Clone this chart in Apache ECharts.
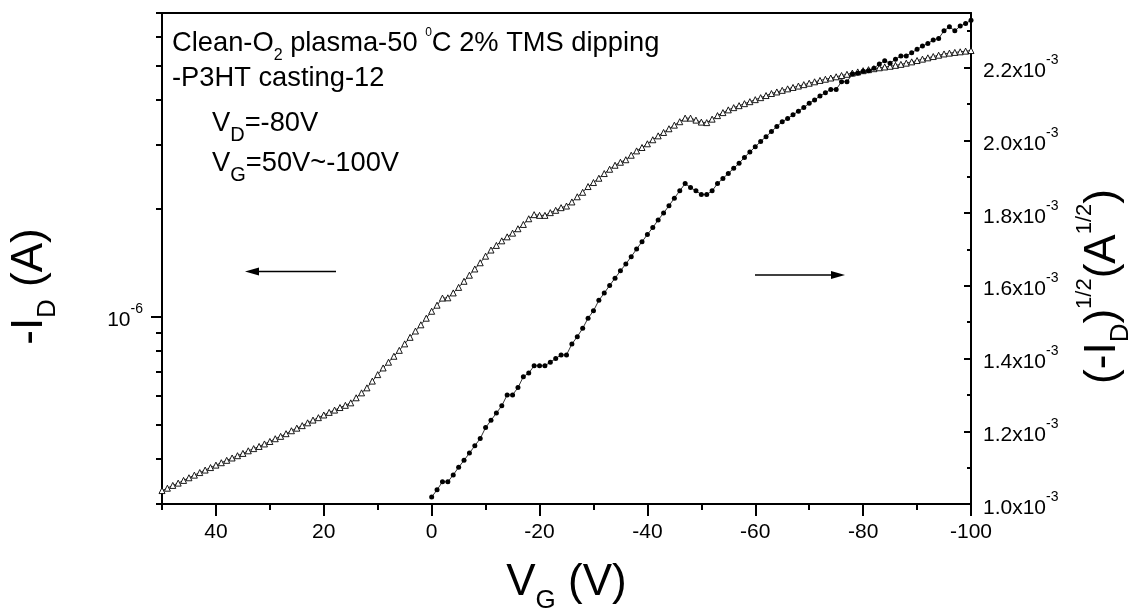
<!DOCTYPE html>
<html>
<head>
<meta charset="utf-8">
<script src="https://cdn.jsdelivr.net/npm/echarts@6/dist/echarts.min.js"></script>
<style>html,body{margin:0;padding:0;background:#fff;}#c{width:1133px;height:613px;}</style>
</head>
<body>
<div id="c"></div>
<script>
// ---------- DATA ----------
const VG = [50,49,48,47,46,45,44,43,42,41,40,39,38,37,36,35,34,33,32,31,30,29,28,27,26,25,24,23,22,21,20,19,18,17,16,15,14,13,12,11,10,9,8,7,6,5,4,3,2,1,0,
-1,-2,-3,-4,-5,-6,-7,-8,-9,-10,-11,-12,-13,-14,-15,-16,-17,-18,-19,-20,-21,-22,-23,-24,-25,-26,-27,-28,-29,-30,-31,-32,-33,-34,-35,-36,-37,-38,-39,-40,
-41,-42,-43,-44,-45,-46,-47,-48,-49,-50,-51,-52,-53,-54,-55,-56,-57,-58,-59,-60,-61,-62,-63,-64,-65,-66,-67,-68,-69,-70,-71,-72,-73,-74,-75,-76,-77,-78,-79,-80,
-81,-82,-83,-84,-85,-86,-87,-88,-89,-90,-91,-92,-93,-94,-95,-96,-97,-98,-99,-100];

// -I_D (A), V_G = 50 ... -100
const ID = [3.27e-7,3.32e-7,3.38e-7,3.43e-7,3.49e-7,3.55e-7,3.61e-7,3.67e-7,3.73e-7,3.79e-7,3.85e-7,3.91e-7,3.97e-7,4.03e-7,4.09e-7,4.15e-7,4.22e-7,4.28e-7,4.34e-7,4.41e-7,
4.48e-7,4.56e-7,4.63e-7,4.71e-7,4.80e-7,4.88e-7,4.96e-7,5.05e-7,5.14e-7,5.22e-7,5.31e-7,5.40e-7,5.48e-7,5.57e-7,5.65e-7,5.74e-7,5.93e-7,6.12e-7,6.32e-7,6.60e-7,
6.88e-7,7.18e-7,7.45e-7,7.74e-7,8.04e-7,8.38e-7,8.74e-7,9.10e-7,9.47e-7,9.88e-7,1.033e-6,
1.074e-6,1.124e-6,1.126e-6,1.162e-6,1.204e-6,1.252e-6,1.302e-6,1.355e-6,1.410e-6,1.471e-6,1.530e-6,1.576e-6,1.623e-6,1.665e-6,1.705e-6,1.754e-6,1.803e-6,1.870e-6,1.920e-6,1.911e-6,
1.911e-6,1.945e-6,1.974e-6,2.008e-6,2.029e-6,2.083e-6,2.153e-6,2.216e-6,2.299e-6,2.359e-6,2.425e-6,2.499e-6,2.569e-6,2.636e-6,2.687e-6,2.731e-6,2.811e-6,2.890e-6,2.954e-6,3.025e-6,
3.104e-6,3.183e-6,3.253e-6,3.331e-6,3.409e-6,3.485e-6,3.566e-6,3.566e-6,3.521e-6,3.476e-6,3.465e-6,3.543e-6,3.624e-6,3.695e-6,3.760e-6,3.814e-6,3.863e-6,3.913e-6,3.963e-6,4.015e-6,
4.067e-6,4.122e-6,4.176e-6,4.218e-6,4.262e-6,4.303e-6,4.342e-6,4.381e-6,4.421e-6,4.461e-6,4.502e-6,4.542e-6,4.577e-6,4.613e-6,4.649e-6,4.687e-6,4.724e-6,4.761e-6,4.797e-6,4.835e-6,
4.866e-6,4.897e-6,4.926e-6,4.951e-6,4.973e-6,5.003e-6,5.035e-6,5.074e-6,5.116e-6,5.160e-6,5.206e-6,5.250e-6,5.294e-6,5.339e-6,5.383e-6,5.411e-6,5.436e-6,5.457e-6,5.481e-6,5.502e-6];

// (-I_D)^1/2 (A^1/2), V_G = 0 ... -100
const SQRT_ID = [1.019e-3,
1.039e-3,1.061e-3,1.061e-3,1.080e-3,1.101e-3,1.120e-3,1.140e-3,1.160e-3,1.180e-3,1.210e-3,
1.230e-3,1.250e-3,1.270e-3,1.300e-3,1.300e-3,1.320e-3,1.350e-3,1.360e-3,1.380e-3,1.380e-3,
1.380e-3,1.390e-3,1.400e-3,1.410e-3,1.410e-3,1.440e-3,1.460e-3,1.483e-3,1.511e-3,1.531e-3,
1.560e-3,1.580e-3,1.601e-3,1.621e-3,1.641e-3,1.660e-3,1.680e-3,1.701e-3,1.721e-3,1.741e-3,
1.760e-3,1.781e-3,1.800e-3,1.820e-3,1.841e-3,1.861e-3,1.881e-3,1.870e-3,1.861e-3,1.851e-3,
1.851e-3,1.861e-3,1.881e-3,1.895e-3,1.909e-3,1.923e-3,1.937e-3,1.953e-3,1.968e-3,1.982e-3,
1.997e-3,2.010e-3,2.024e-3,2.038e-3,2.051e-3,2.060e-3,2.070e-3,2.080e-3,2.090e-3,2.102e-3,
2.111e-3,2.122e-3,2.131e-3,2.140e-3,2.140e-3,2.161e-3,2.161e-3,2.182e-3,2.184e-3,2.190e-3,
2.191e-3,2.198e-3,2.210e-3,2.219e-3,2.212e-3,2.223e-3,2.232e-3,2.232e-3,2.241e-3,2.250e-3,
2.259e-3,2.266e-3,2.276e-3,2.280e-3,2.301e-3,2.312e-3,2.301e-3,2.314e-3,2.321e-3,2.330e-3];

// ticks
const X_MAJOR = [40,20,0,-20,-40,-60,-80,-100];
const X_MINOR = [50,30,10,-10,-30,-50,-70,-90];
const L_MAJOR = [1e-6];
const L_MINOR = [3e-7,4e-7,5e-7,6e-7,7e-7,8e-7,9e-7,2e-6,3e-6,4e-6,5e-6,6e-6,7e-6];
const R_MAJOR = [1.0e-3,1.2e-3,1.4e-3,1.6e-3,1.8e-3,2.0e-3,2.2e-3];
const R_MINOR = [1.1e-3,1.3e-3,1.5e-3,1.7e-3,1.9e-3,2.1e-3,2.3e-3];

// ---------- STYLE ----------
const FONT = '"Liberation Sans", Arial, Helvetica, sans-serif';
const K = '#000';
function titleRich(){
  return {
    n:{fontSize:44,fontFamily:FONT,color:K,padding:[8,0,9,0],verticalAlign:'top'},
    sub:{fontSize:26,fontFamily:FONT,color:K,padding:[35,0,0,0],verticalAlign:'top'},
    sup:{fontSize:22,fontFamily:FONT,color:K,padding:[1,0,0,0],verticalAlign:'top'}
  };
}
const tickRich = {
  n:{fontSize:21,fontFamily:FONT,color:K,padding:[7.5,0,0,0],verticalAlign:'top'},
  s:{fontSize:14,fontFamily:FONT,color:K,verticalAlign:'top'}
};
const annRich = {
  n:{fontSize:27.3,fontFamily:FONT,fill:K,padding:[10,0,8,0],verticalAlign:'top'},
  sub:{fontSize:16,fontFamily:FONT,fill:K,padding:[27.5,0,0,0],verticalAlign:'top'},
  subL:{fontSize:20,fontFamily:FONT,fill:K,padding:[25.5,0,0,0],verticalAlign:'top'},
  sup:{fontSize:12,fontFamily:FONT,fill:K,padding:[6.3,0,0,0],verticalAlign:'top'}
};
const axLine = {show:true,onZero:false,lineStyle:{color:K,width:2}};

const triData = VG.map((v,i)=>[v, ID[i]]);
const dotVG = VG.slice(VG.indexOf(0));
const dotData = dotVG.map((v,i)=>[v, SQRT_ID[i]]);

const chart = echarts.init(document.getElementById('c'), null, {renderer:'canvas'});
const option = {
  animation:false,
  backgroundColor:'#fff',
  grid:{left:162,right:162,top:13,bottom:109,containLabel:false,outerBoundsMode:'none',show:false},
  xAxis:[
    {type:'value',position:'bottom',min:-100,max:50,inverse:true,
     axisLine:axLine,
     axisTick:{show:true,inside:false,length:12,customValues:X_MAJOR,lineStyle:{color:K,width:2}},
     axisLabel:{show:true,customValues:X_MAJOR,fontSize:21,fontFamily:FONT,color:K,margin:18},
     minorTick:{show:false},splitLine:{show:false},
     name:'{n|V}{sub|G}{n| (V)}',nameLocation:'middle',nameGap:49,
     nameTextStyle:{rich:titleRich()}},
    {type:'value',position:'bottom',min:-100,max:50,inverse:true,
     axisLine:{show:false,onZero:false},
     axisTick:{show:true,inside:false,length:6,customValues:X_MINOR,lineStyle:{color:K,width:2}},
     axisLabel:{show:false},splitLine:{show:false}},
    {type:'value',position:'top',min:-100,max:50,inverse:true,
     axisLine:axLine,axisTick:{show:false},axisLabel:{show:false},splitLine:{show:false}}
  ],
  yAxis:[
    {type:'log',logBase:10,position:'left',min:3e-7,max:7e-6,
     axisLine:axLine,
     axisTick:{show:true,inside:false,length:11,customValues:L_MAJOR,lineStyle:{color:K,width:2}},
     axisLabel:{show:true,customValues:L_MAJOR,margin:19,
       formatter:function(v){return '{n|10}{s|'+Math.round(Math.log10(v))+'}';},rich:tickRich},
     splitLine:{show:false},minorTick:{show:false},
     name:'{n|-I}{sub|D}{n| (A)}',nameLocation:'middle',nameGap:101,
     nameTextStyle:{rich:titleRich(),padding:[0,56,0,0]}},
    {type:'log',logBase:10,position:'left',min:3e-7,max:7e-6,
     axisLine:{show:false,onZero:false},
     axisTick:{show:true,inside:false,length:6,customValues:L_MINOR,lineStyle:{color:K,width:2}},
     axisLabel:{show:false},splitLine:{show:false}},
    {type:'value',position:'right',min:1.0e-3,max:2.35e-3,
     axisLine:axLine,
     axisTick:{show:true,inside:true,length:7,customValues:R_MAJOR,lineStyle:{color:K,width:2}},
     axisLabel:{show:true,customValues:R_MAJOR,margin:12,
       formatter:function(v){return '{n|'+(v*1000).toFixed(1)+'x10}{s|-3}';},rich:tickRich},
     splitLine:{show:false},
     name:'{n|(-I}{sub|D}{n|)}{sup|1/2}{n|(A}{sup|1/2}{n|)}',nameLocation:'middle',nameGap:102,
     nameTextStyle:{rich:titleRich(),padding:[0,56,0,0]}},
    {type:'value',position:'right',min:1.0e-3,max:2.35e-3,
     axisLine:{show:false,onZero:false},
     axisTick:{show:true,inside:true,length:4,customValues:R_MINOR,lineStyle:{color:K,width:2}},
     axisLabel:{show:false},splitLine:{show:false}}
  ],
  series:[
    {type:'line',xAxisIndex:0,yAxisIndex:0,data:triData,
     symbol:'triangle',symbolSize:6,showAllSymbol:true,
     lineStyle:{color:K,width:0.8},
     itemStyle:{color:'#fff',borderColor:K,borderWidth:0.9},
     emphasis:{disabled:true},z:2},
    {type:'line',xAxisIndex:0,yAxisIndex:2,data:dotData,
     symbol:'circle',symbolSize:5,showAllSymbol:true,
     lineStyle:{color:K,width:0.8},
     itemStyle:{color:K,borderColor:K,borderWidth:0},
     emphasis:{disabled:true},z:3}
  ],
  graphic:[
    {type:'text',x:172,y:20,style:{text:'{n|Clean-O}{sub|2}{n| plasma-50 }{sup|0}{n|C 2% TMS dipping}',rich:annRich,align:'left',verticalAlign:'top'}},
    {type:'text',x:172,y:55,style:{text:'{n|-P3HT casting-12}',rich:annRich,align:'left',verticalAlign:'top'}},
    {type:'text',x:212,y:100,style:{text:'{n|V}{subL|D}{n|=-80V}',rich:annRich,align:'left',verticalAlign:'top'}},
    {type:'text',x:212,y:140,style:{text:'{n|V}{subL|G}{n|=50V~-100V}',rich:annRich,align:'left',verticalAlign:'top'}},
    {type:'line',shape:{x1:258,y1:271.5,x2:336,y2:271.5},style:{stroke:K,lineWidth:1.3}},
    {type:'polygon',shape:{points:[[245,271.5],[259,267.5],[259,275.5]]},style:{fill:K}},
    {type:'line',shape:{x1:755,y1:275,x2:832,y2:275},style:{stroke:K,lineWidth:1.3}},
    {type:'polygon',shape:{points:[[845,275],[831,271],[831,279]]},style:{fill:K}}
  ]
};
chart.setOption(option);
</script>
</body>
</html>
